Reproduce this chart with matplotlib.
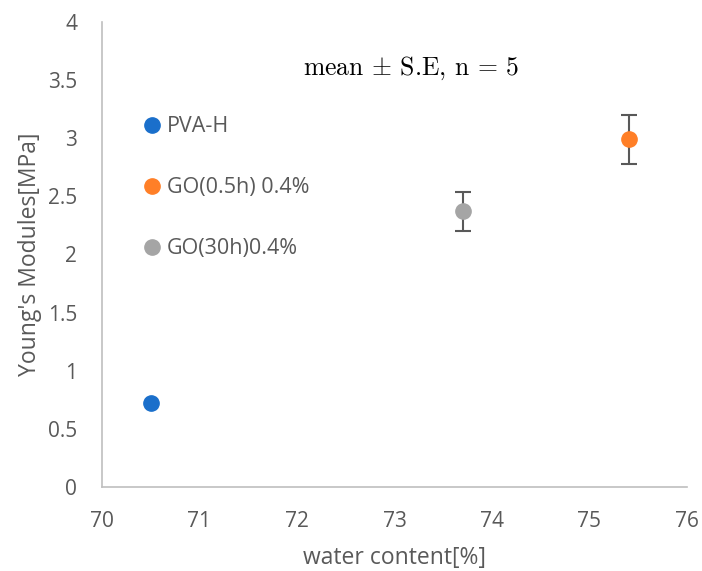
import matplotlib
matplotlib.use("Agg")
import matplotlib.pyplot as plt

series = ["PVA-H", "GO(0.5h) 0.4%", "GO(30h)0.4%"]
water_content = [70.5, 75.4, 73.7]
youngs_modulus = [0.72, 2.99, 2.37]
std_err = [None, 0.21, 0.17]
colors = ["#1A6FCB", "#FF7F27", "#A5A5A5"]

x_ticks = [70, 71, 72, 73, 74, 75, 76]
y_ticks = [0, 0.5, 1, 1.5, 2, 2.5, 3, 3.5, 4]
y_ticklabels = ["0", "0.5", "1", "1.5", "2", "2.5", "3", "3.5", "4"]

plt.rcParams["font.family"] = ["Open Sans", "DejaVu Sans"]
plt.rcParams["mathtext.fontset"] = "cm"
txt = "#595959"

fig = plt.figure(figsize=(7.02, 5.71), dpi=100)
ax = fig.add_axes([102/702, 1 - 487/571, (687-102)/702, (487-22)/571])

for name, x, y, e, c in zip(series, water_content, youngs_modulus, std_err, colors):
    if e is not None:
        ax.errorbar([x], [y], yerr=[e], fmt="none", ecolor="#595959",
                    elinewidth=1.5, capsize=6, capthick=1.5, zorder=2)
    ax.plot([x], [y], "o", color=c, markersize=11, label=name, zorder=3,
            linestyle="none")

ax.set_xlim(70, 76)
ax.set_ylim(0, 4)
ax.set_xticks(x_ticks)
ax.set_yticks(y_ticks)
ax.set_yticklabels(y_ticklabels)
ax.tick_params(length=0, labelsize=15, labelcolor=txt)
ax.tick_params(axis="x", pad=17)
ax.tick_params(axis="y", pad=18)
for s in ["top", "right"]:
    ax.spines[s].set_visible(False)
for s in ["left", "bottom"]:
    ax.spines[s].set_color("#BFBFBF")
    ax.spines[s].set_linewidth(1.2)

ax.set_xlabel("water content[%]", fontsize=16.5, color=txt, labelpad=10)
ax.set_ylabel("Young's Modules[MPa]", fontsize=16.5, color=txt, labelpad=4)

leg = ax.legend(loc="upper left", bbox_to_anchor=(0.064, 0.797), frameon=False,
                fontsize=15.5, handletextpad=0.12, labelspacing=1.86,
                handlelength=1.15, markerscale=1.0, borderpad=0, borderaxespad=0)
for t in leg.get_texts():
    t.set_color(txt)

ax.text(73.17, 3.6, r"mean $\pm$ S.E, n = 5", fontsize=18.5,
        family=["cmr10"], color="black", ha="center", va="center")

fig.savefig("out.png", dpi=100)
